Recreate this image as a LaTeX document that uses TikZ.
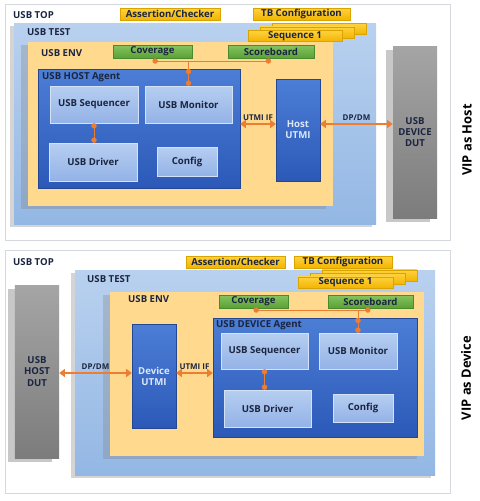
\documentclass[tikz,border=0pt]{standalone}
\usepackage{fontspec}
\setmainfont{Open Sans}
\usetikzlibrary{arrows.meta,shadows}
\definecolor{ink}{HTML}{1B2540}
\definecolor{edge}{HTML}{D5D9DE}
\definecolor{testtop}{HTML}{B9D1EF}
\definecolor{testbot}{HTML}{93B7E4}
\definecolor{envfill}{HTML}{FFD98E}
\definecolor{agenttop}{HTML}{4C7ED6}
\definecolor{agentbot}{HTML}{2C59B8}
\definecolor{subtop}{HTML}{B6CEF1}
\definecolor{subbot}{HTML}{93B2E6}
\definecolor{goldtop}{HTML}{FFD23F}
\definecolor{goldbot}{HTML}{F2B400}
\definecolor{goldedge}{HTML}{D9A300}
\definecolor{greentop}{HTML}{86C45F}
\definecolor{greenbot}{HTML}{5AA136}
\definecolor{greenedge}{HTML}{4A8A2E}
\definecolor{wire}{HTML}{ED7D31}
\definecolor{duttop}{HTML}{A5A5A5}
\definecolor{dutbot}{HTML}{7C7C7C}
\definecolor{dutshade}{HTML}{C8C8C8}
\definecolor{utmitext}{HTML}{DCE8F8}
\tikzset{
  font=\bfseries\fontsize{8.2}{9.5}\selectfont,
  panel/.style={draw=edge, fill=white, line width=0.8pt, inner sep=0pt},
  testbox/.style={top color=testtop, bottom color=testbot, inner sep=0pt, drop shadow={shadow xshift=-1.2mm, shadow yshift=-1mm, opacity=0.3, fill=black!55}},
  envbox/.style={fill=envfill, inner sep=0pt, drop shadow={shadow xshift=-2mm, shadow yshift=-1mm, opacity=0.3, fill=black!50}},
  agentbox/.style={draw=agentbot!80!black, line width=0.3pt, top color=agenttop, bottom color=agentbot, inner sep=0pt},
  sub/.style={draw=subtop!60!white, line width=0.3pt, top color=subtop, bottom color=subbot, text=ink, align=center, inner sep=0pt},
  utmi/.style={agentbox, text=utmitext, align=center},
  dut/.style={top color=duttop, bottom color=dutbot, text=ink, align=center, inner sep=0pt, drop shadow={shadow xshift=-2.1mm, shadow yshift=-1.2mm, opacity=1, fill=dutshade}},
  gold/.style={draw=goldedge, line width=0.4pt, top color=goldtop, bottom color=goldbot, text=ink, inner sep=0pt, minimum height=0.36cm},
  metric/.style={draw=greenedge, line width=0.4pt, top color=greentop, bottom color=greenbot, text=ink, inner sep=0pt, minimum height=0.39cm},
  tag/.style={text=ink, inner sep=0pt, anchor=west},
  wirelbl/.style={above=0.6mm, text=ink, inner sep=0pt, font=\bfseries\fontsize{6.8}{8}\selectfont},
  link/.style={{Triangle[length=1.7mm,width=2.4mm]}-{Triangle[length=1.7mm,width=2.4mm]}, draw=wire, line width=1.8pt},
  tap/.style={{Circle[length=1.6mm]}-{Circle[length=1.6mm]}, draw=wire, line width=0.6pt},
  view/.style={rotate=90, font=\bfseries\fontsize{11}{13}\selectfont, text=black},
}

\begin{document}
\begin{tikzpicture}
\useasboundingbox (0,0) rectangle (14.4,-15.03);
% --- VIP as Host (top panel)
\node[panel, minimum width=13.35cm, minimum height=7.08cm] (top1) at (6.825,-3.66) {};
\node[tag] (toplbl1) at (0.39,-0.45) {USB TOP};
\node[gold, minimum width=3.0cm] (assert1) at (5.1,-0.42) {Assertion/Checker};
\node[gold, minimum width=2.91cm] (tbcfg1) at (9.045,-0.42) {TB Configuration};
\node[testbox, minimum width=10.86cm, minimum height=6.03cm] (test1) at (5.85,-3.705) {};
\node[tag] (testlbl1) at (0.81,-0.96) {USB TEST};
\node[gold, minimum width=2.82cm, minimum height=0.34cm] (seqc1) at (9.57,-0.87) {};
\node[gold, minimum width=2.82cm, minimum height=0.34cm] (seqb1) at (9.21,-0.975) {};
\node[gold, minimum width=2.82cm, minimum height=0.34cm] (seqa1) at (8.85,-1.08) {Sequence 1};
\node[envbox, minimum width=9.15cm, minimum height=4.92cm] (env1) at (5.415,-3.72) {};
\node[tag] (envlbl1) at (1.23,-1.59) {USB ENV};
\node[metric, minimum width=2.37cm] (cov1) at (4.575,-1.545) {Coverage};
\node[metric, minimum width=2.58cm] (score1) at (8.13,-1.545) {Scoreboard};
\node[agentbox, minimum width=6.06cm, minimum height=3.57cm] (agent1) at (4.17,-3.855) {};
\node[tag] (agentlbl1) at (1.26,-2.31) {USB HOST Agent};
\node[sub, minimum width=2.64cm, minimum height=1.11cm] (seq1) at (2.82,-3.135) {USB Sequencer};
\node[sub, minimum width=2.61cm, minimum height=1.11cm] (mon1) at (5.655,-3.135) {USB Monitor};
\node[sub, minimum width=2.64cm, minimum height=1.14cm] (drv1) at (2.79,-4.86) {USB Driver};
\node[sub, minimum width=1.8cm, minimum height=0.87cm] (cfg1) at (5.61,-4.845) {Config};
\node[utmi, minimum width=1.32cm, minimum height=3.06cm] (utmi1) at (8.94,-3.9) {Host\\UTMI};
\node[dut, minimum width=1.32cm, minimum height=5.16cm] (dut1) at (12.45,-3.96) {USB\\DEVICE\\DUT};
\node[view] (vip1) at (14.01,-4.2) {VIP as Host};
\coordinate (h1) at (0,-1.83);
\coordinate (bus1) at (0,-3.72);
\draw[tap] (cov1.south |- h1) -- (score1.south |- h1);
\draw[draw=wire, line width=0.6pt] (mon1.north |- h1) -- (mon1.north |- agent1.north);
\draw[tap] (mon1.north |- agent1.north) -- (mon1.north);
\draw[tap] (seq1.south) -- (seq1.south |- drv1.north);
\draw[link] (agent1.east |- bus1) -- node[wirelbl] {UTMI IF} (utmi1.west |- bus1);
\draw[link] (utmi1.east |- bus1) -- node[wirelbl] {DP/DM} (dut1.west |- bus1);
% --- VIP as Device (bottom panel)
\node[panel, minimum width=13.35cm, minimum height=7.29cm] (top2) at (6.825,-11.145) {};
\node[tag] (toplbl2) at (0.39,-7.86) {USB TOP};
\node[gold, minimum width=2.97cm] (assert2) at (7.065,-7.86) {Assertion/Checker};
\node[gold, minimum width=2.94cm] (tbcfg2) at (10.29,-7.86) {TB Configuration};
\node[testbox, minimum width=10.8cm, minimum height=6.15cm] (test2) at (7.65,-11.175) {};
\node[tag] (testlbl2) at (2.61,-8.37) {USB TEST};
\node[gold, minimum width=2.85cm, minimum height=0.34cm] (seqc2) at (11.085,-8.265) {};
\node[gold, minimum width=2.85cm, minimum height=0.34cm] (seqb2) at (10.725,-8.37) {};
\node[gold, minimum width=2.85cm, minimum height=0.34cm] (seqa2) at (10.365,-8.475) {Sequence 1};
\node[envbox, minimum width=9.42cm, minimum height=4.92cm] (env2) at (8.01,-11.22) {};
\node[tag] (envlbl2) at (3.84,-8.97) {USB ENV};
\node[metric, minimum width=2.07cm] (cov2) at (7.605,-9.045) {Coverage};
\node[metric, minimum width=2.55cm] (score2) at (11.115,-9.045) {Scoreboard};
\node[agentbox, minimum width=6.12cm, minimum height=3.57cm] (agent2) at (9.45,-11.325) {};
\node[tag] (agentlbl2) at (6.48,-9.75) {USB DEVICE Agent};
\node[sub, minimum width=2.61cm, minimum height=1.08cm] (seq2) at (7.935,-10.53) {USB Sequencer};
\node[sub, minimum width=2.34cm, minimum height=1.08cm] (mon2) at (10.74,-10.53) {USB Monitor};
\node[sub, minimum width=2.61cm, minimum height=1.11cm] (drv2) at (8.025,-12.255) {USB Driver};
\node[sub, minimum width=1.8cm, minimum height=0.84cm] (cfg2) at (10.89,-12.24) {Config};
\node[utmi, minimum width=1.32cm, minimum height=3.12cm] (utmi2) at (4.62,-11.28) {Device\\UTMI};
\node[dut, minimum width=1.32cm, minimum height=5.19cm] (dut2) at (1.11,-11.145) {USB\\HOST\\DUT};
\node[view] (vip2) at (13.98,-11.34) {VIP as Device};
\coordinate (h2) at (0,-9.3);
\coordinate (bus2) at (0,-11.19);
\draw[tap] (cov2.south |- h2) -- (score2.south |- h2);
\draw[draw=wire, line width=0.6pt] (mon2.north |- h2) -- (mon2.north |- agent2.north);
\draw[tap] (mon2.north |- agent2.north) -- (mon2.north);
\draw[tap] (seq2.south) -- (seq2.south |- drv2.north);
\draw[link] (dut2.east |- bus2) -- node[wirelbl] {DP/DM} (utmi2.west |- bus2);
\draw[link] (utmi2.east |- bus2) -- node[wirelbl] {UTMI IF} (agent2.west |- bus2);
\end{tikzpicture}
\end{document}
